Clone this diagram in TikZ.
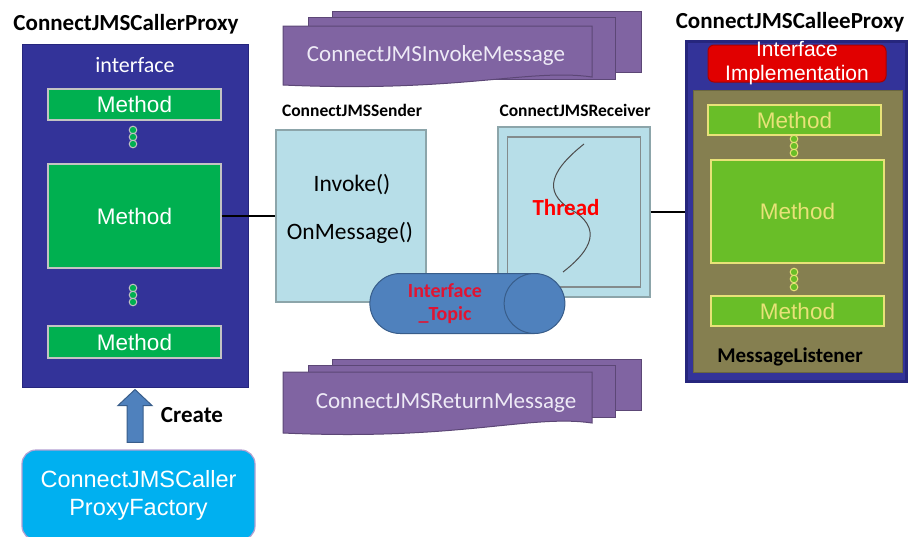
\documentclass[tikz,border=0pt]{standalone}
\usepackage{fontspec}
\setmainfont{Carlito}
\newfontfamily\arialfont{Liberation Sans}
\usepackage{tikz}
\usetikzlibrary{positioning,calc,shapes.geometric}

\definecolor{proxyblue}{RGB}{51,51,153}
\definecolor{proxyedge}{RGB}{38,38,125}
\definecolor{methodgreen}{RGB}{0,176,80}
\definecolor{methodedge}{RGB}{195,195,195}
\definecolor{factoryblue}{RGB}{0,176,240}
\definecolor{factoryedge}{RGB}{180,160,210}
\definecolor{arrowblue}{RGB}{79,129,189}
\definecolor{arrowedge}{RGB}{56,93,138}
\definecolor{msgfill}{RGB}{128,100,162}
\definecolor{msgedge}{RGB}{92,71,118}
\definecolor{msgtext}{RGB}{238,234,246}
\definecolor{senderfill}{RGB}{183,222,232}
\definecolor{senderedge}{RGB}{140,165,170}
\definecolor{topicred}{RGB}{225,20,50}
\definecolor{implred}{RGB}{225,0,0}
\definecolor{impledge}{RGB}{170,0,0}
\definecolor{olive}{RGB}{133,127,80}
\definecolor{limegreen}{RGB}{105,190,40}
\definecolor{limeedge}{RGB}{232,226,120}

\tikzset{
  title/.style={font=\fontsize{23}{27}\selectfont\bfseries},
  sublabel/.style={font=\fontsize{17.5}{21}\selectfont\bfseries},
  plaintext/.style={font=\fontsize{23.5}{28}\selectfont},
  proxy/.style={draw=proxyedge, fill=proxyblue, line width=1},
  method/.style={draw=methodedge, fill=methodgreen, line width=1.2, inner sep=1pt,
    text=white, font=\arialfont\fontsize{22.5}{26}\selectfont},
  limemethod/.style={method, draw=limeedge, fill=limegreen, text=limeedge},
  dot/.style={draw=methodedge, fill=methodgreen, line width=1},
  limedot/.style={draw=limeedge, fill=limegreen, line width=1},
  factory/.style={draw=factoryedge, fill=factoryblue, line width=1.2, rounded corners=14,
    align=center, text=white, font=\arialfont\fontsize{23.5}{28}\selectfont},
  createarrow/.style={draw=arrowedge, fill=arrowblue, line width=1},
  msg/.style={draw=msgedge, fill=msgfill, line width=1},
  msgtitle/.style={text=msgtext, font=\fontsize{23}{27}\selectfont},
  sender/.style={draw=senderedge, fill=senderfill, line width=1.2},
  topic/.style={cylinder, aspect=1.3, draw=arrowedge, fill=arrowblue, line width=1,
    align=center, text=topicred, font=\fontsize{20}{23}\selectfont\bfseries},
  link/.style={line width=2.5},
  implbox/.style={draw=impledge, fill=implred, rounded corners=6, line width=1},
  impltext/.style={align=center, text=white, font=\arialfont\fontsize{21}{24}\selectfont},
  listener/.style={draw=olive!80!black, fill=olive, line width=0.8}
}

\begin{document}
\begin{tikzpicture}[x=1pt,y=-1pt]
\useasboundingbox (0,0) rectangle (910,536);

% Caller proxy
\node[title] (callertitle) at (126,24) {ConnectJMSCallerProxy};
\node[proxy, minimum width=226, minimum height=343] (caller) at (135,215.5) {};
\node[text=white, font=\fontsize{22}{26}\selectfont] (iface) at (135,65) {interface};
\node[method, minimum width=173, minimum height=31] (cm1) at (134.5,104.5) {Method};
\node[method, minimum width=173, minimum height=104] (cm2) at (134.5,216) {Method};
\node[method, minimum width=173, minimum height=32] (cm3) at (134.5,342) {Method};
\foreach \y in {130,137,144,288,295,302}
    \draw[dot] (133,\y) circle (3.8);

% Factory and create arrow
\node[factory, minimum width=233, minimum height=90] (factory) at (138.5,495) {ConnectJMSCaller\\ProxyFactory};
\draw[createarrow] ($(caller.south)+(0,2)$) -- ++(17,16) -- ++(-9,0)
    -- ($(caller.south |- factory.north)+(8,-7)$) -- ++(-16,0)
    -- ($(caller.south)+(-8,18)$) -- ++(-9,0) -- cycle;
\node[title] (create) at (192,415) {Create};

% Invoke message stack
\draw[msg] (332,11) rectangle (641,72);
\draw[msg] (308,17) rectangle (615,79);
\draw[msg] (283,26) -- (592,26) -- (592,77) .. controls (530,68) and (460,93) .. (283,85) -- cycle;
\node[msgtitle] (invokemsg) at (436,55) {ConnectJMSInvokeMessage};

% Return message stack
\draw[msg] (332,359) rectangle (641,410);
\draw[msg] (308,365) rectangle (615,417);
\draw[msg] (283,372) -- (592,372) -- (592,423) .. controls (530,414) and (460,441) .. (283,433) -- cycle;
\node[msgtitle] (returnmsg) at (446,403) {ConnectJMSReturnMessage};

% Sender
\node[sublabel] (sendertitle) at (352,110) {ConnectJMSSender};
\node[sender, minimum width=150, minimum height=172] (sender) at (351,216) {};
\node[plaintext] (invoke) at (352,185) {Invoke()};
\node[plaintext] (onmsg) at (350,233) {OnMessage()};

% Receiver
\node[sublabel] (receivertitle) at (575,110) {ConnectJMSReceiver};
\node[sender, minimum width=152, minimum height=170] (receiver) at (574,212) {};
\node[sender, draw=gray!70!senderedge, minimum width=133, minimum height=150] (rinner) at (receiver) {};
\draw[gray!60!black, line width=1] (584,144) .. controls (545,175) and (545,195) .. (575,212)
    .. controls (605,232) and (585,255) .. (563,272);
\node[text=red, font=\fontsize{23}{27}\selectfont\bfseries] (thread) at (566,208) {Thread};

% Topic
\node[topic, minimum width=60, minimum height=195] (topic) at (445,303.5) {Interface\\\_Topic};

% Callee proxy
\node[title] (calleetitle) at (790,22) {ConnectJMSCalleeProxy};
\node[proxy, line width=3.5, minimum width=220, minimum height=340] (callee) at (796.5,211.5) {};
\node[implbox, minimum width=178, minimum height=37] (impl) at (797,63.5) {};
\node[impltext] (impllabel) at (impl) {Interface\\Implementation};
\node[listener, minimum width=209, minimum height=282] (listener) at (797.5,231) {};
\node[limemethod, minimum width=173, minimum height=30] (lm1) at (794.5,120) {Method};
\node[limemethod, minimum width=173, minimum height=103] (lm2) at (797.5,211.5) {Method};
\node[limemethod, minimum width=173, minimum height=30] (lm3) at (797.5,311) {Method};
\foreach \y in {139,146,153,272,279,287}
    \draw[limedot] (794,\y) circle (3.8);
\node[font=\fontsize{21}{25}\selectfont\bfseries] (listenerlabel) at (790,357) {MessageListener};

% Links
\draw[link] (cm2.east) -- (cm2.east -| sender.west);
\draw[link] (receiver.east) -- (receiver.east -| callee.west);
\end{tikzpicture}
\end{document}
